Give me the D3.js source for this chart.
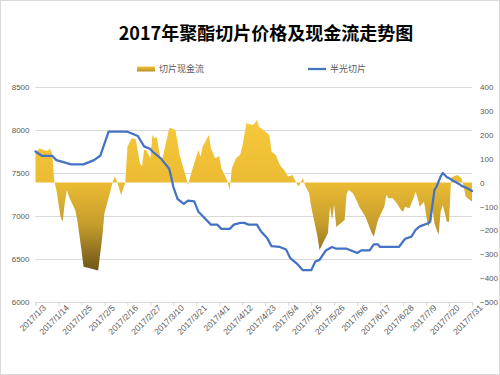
<!DOCTYPE html>
<html>
<head>
<meta charset="utf-8">
<script src="https://cdn.jsdelivr.net/npm/d3@7"></script>
<style>
  body { margin: 0; background: #fff; }
  svg { display: block; font-family: "Noto Sans CJK SC", "Noto Sans", sans-serif; }
</style>
</head>
<body>
<svg id="chart" width="500" height="375"></svg>
<script>
const title = '2017年聚酯切片价格及现金流走势图';
const areaName = '切片现金流';
const lineName = '半光切片';

// 半光切片 price (left axis)
const priceDates = ['1/3','1/6','1/11','1/13','1/16','1/20','1/26','1/31','2/3','2/7','2/16','2/19','2/21','2/24','2/27','2/28',
  '3/4','3/8','3/9','3/10','3/12','3/15','3/17','3/20','3/22','3/24','3/28','3/31','4/2','4/6','4/8','4/11','4/13','4/15','4/19',
  '4/21','4/24','4/26','4/30','5/3','5/5','5/8','5/11','5/15','5/17','5/19','5/22','5/25','5/27','6/1','6/4','6/6','6/8','6/12',
  '6/14','6/16','6/17','6/26','6/29','7/2','7/4','7/6','7/10','7/11','7/13','7/14','7/16','7/17','7/19','7/20','7/22','7/25',
  '7/26','7/29','7/31'];
const priceValues = [7750,7700,7700,7650,7630,7600,7600,7650,7700,7980,7980,7950,7930,7810,7780,7750,
  7670,7550,7450,7340,7200,7140,7180,7170,7050,7000,6900,6900,6850,6850,6900,6920,6920,6900,6900,
  6820,6740,6650,6640,6610,6510,6450,6370,6370,6470,6490,6600,6640,6620,6620,6590,6570,6600,6600,
  6670,6670,6640,6640,6735,6760,6840,6880,6915,6935,7300,7340,7460,7500,7450,7440,7410,7370,
  7350,7320,7290];

// 切片现金流 (right axis)
const cashDates = ['1/3','1/5','1/7','1/9','1/10','1/11','1/12','1/13','1/15','1/16','1/17','1/18','1/19','1/22','1/23','1/25',
  '1/26','1/29','2/2','2/3','2/4','2/5','2/8','2/9','2/10','2/11','2/12','2/13','2/15','2/16','2/18','2/20','2/22','2/23',
  '2/24','2/25','2/27','2/28','3/1','3/2','3/4','3/5','3/8','3/9','3/11','3/13','3/16','3/17','3/19','3/22','3/23','3/24',
  '3/27','3/28','3/30','4/1','4/2','4/5','4/6','4/7','4/9','4/11','4/12','4/14','4/17','4/18','4/19','4/20','4/22','4/25',
  '4/26','4/28','4/30','5/2','5/4','5/6','5/8','5/9','5/11','5/12','5/14','5/15','5/17','5/18','5/19','5/21','5/23','5/24',
  '5/25','5/26','5/27','5/29','5/31','6/1','6/2','6/4','6/6','6/7','6/10','6/13','6/14','6/16','6/19','6/20','6/21','6/23',
  '6/25','6/27','6/28','6/29','7/1','7/3','7/4','7/5','7/6','7/8','7/10','7/11','7/12','7/13','7/15','7/16','7/17','7/18',
  '7/19','7/20','7/21','7/22','7/24','7/26','7/27','7/28','7/30','7/31'];
const cashValues = [125,144,135,133,143,120,5,-31,-143,-164,-87,-31,-59,-115,-157,-282,
  -352,-359,-368,-296,-226,-129,-31,4,25,5,-24,-52,0,150,185,181,81,67,
  136,136,102,199,185,192,95,108,227,227,220,116,25,-10,53,136,108,150,
  199,145,102,110,60,4,-31,60,102,116,150,248,241,248,262,234,220,199,
  129,116,74,53,25,32,-3,-17,18,-10,-45,-101,-185,-226,-282,-247,-212,-101,
  -157,-94,-185,-171,-157,-45,-31,-45,-80,-101,-143,-212,-226,-157,-101,-52,-66,-66,
  -87,-115,-122,-101,-108,-66,-38,-66,-101,-80,-185,-164,-101,-171,-219,-122,-94,-129,
  -164,-164,20,25,32,18,-17,-59,-73,-80];

const leftTicks = [6000, 6500, 7000, 7500, 8000, 8500];
const rightTicks = [-500, -400, -300, -200, -100, 0, 100, 200, 300, 400];
const xTickDates = ['1/3','1/14','1/25','2/5','2/16','2/27','3/10','3/21','4/1','4/12','4/23','5/4','5/15','5/26',
  '6/6','6/17','6/28','7/9','7/20','7/31'];

const parseDate = d3.timeParse('%Y/%m/%d');
const toDate = s => parseDate('2017/' + s);

const price = priceDates.map((d, i) => ({ date: toDate(d), value: priceValues[i] }));
const cash = cashDates.map((d, i) => ({ date: toDate(d), value: cashValues[i] }));

const svg = d3.select('#chart');
const margin = { top: 87, right: 28, bottom: 73, left: 35.5 };
const width = 500, height = 375;

svg.append('rect')
  .attr('x', 0.5).attr('y', 0.5)
  .attr('width', width - 1).attr('height', height - 1)
  .attr('fill', '#fff').attr('stroke', '#d9d9d9');

const x = d3.scaleTime()
  .domain([toDate('1/3'), toDate('7/31')])
  .range([margin.left, width - margin.right]);
const yL = d3.scaleLinear().domain([6000, 8500]).range([height - margin.bottom, margin.top]);
const yR = d3.scaleLinear().domain([-500, 400]).range([height - margin.bottom, margin.top]);

// gradient for area
const defs = svg.append('defs');
const [cMin, cMax] = d3.extent(cashValues);
const grad = defs.append('linearGradient')
  .attr('id', 'gold')
  .attr('gradientUnits', 'userSpaceOnUse')
  .attr('x1', 0).attr('x2', 0)
  .attr('y1', yR(cMax)).attr('y2', yR(cMin));
grad.append('stop').attr('offset', 0).attr('stop-color', '#f7c83a');
grad.append('stop').attr('offset', 0.42).attr('stop-color', '#ebbb33');
grad.append('stop').attr('offset', 0.7).attr('stop-color', '#c49c2c');
grad.append('stop').attr('offset', 1).attr('stop-color', '#6e5419');

const legGrad = defs.append('linearGradient')
  .attr('id', 'goldLeg')
  .attr('x1', 0).attr('x2', 0).attr('y1', 0).attr('y2', 1);
legGrad.append('stop').attr('offset', 0).attr('stop-color', '#f3c23a');
legGrad.append('stop').attr('offset', 1).attr('stop-color', '#b8922a');

// gridlines
svg.append('g')
  .attr('transform', `translate(${margin.left},0)`)
  .call(d3.axisLeft(yL).tickValues(leftTicks).tickSize(-(width - margin.left - margin.right)).tickFormat(''))
  .call(g => g.select('.domain').remove())
  .call(g => g.selectAll('line').attr('stroke', '#d9d9d9').attr('stroke-width', 1));

// left axis labels
svg.append('g')
  .attr('transform', `translate(${margin.left},0)`)
  .call(d3.axisLeft(yL).tickValues(leftTicks).tickSize(0).tickPadding(6).tickFormat(d3.format('d')))
  .call(g => g.select('.domain').remove())
  .call(g => g.selectAll('text').attr('fill', '#595959').style('font-size', '8px'));

// right axis labels
svg.append('g')
  .attr('transform', `translate(${width - margin.right},0)`)
  .call(d3.axisRight(yR).tickValues(rightTicks).tickSize(0).tickPadding(8))
  .call(g => g.select('.domain').remove())
  .call(g => g.selectAll('text').attr('fill', '#595959').style('font-size', '8px'));

// area
const area = d3.area()
  .x(d => x(d.date))
  .y0(yR(0))
  .y1(d => yR(d.value));

svg.append('path')
  .datum(cash)
  .attr('d', area)
  .attr('fill', 'url(#gold)');

// bottom axis
svg.append('g')
  .attr('transform', `translate(0,${height - margin.bottom})`)
  .call(d3.axisBottom(x).tickValues(xTickDates.map(toDate)).tickSize(4).tickFormat(d3.timeFormat('%Y/%-m/%-d')))
  .call(g => g.select('.domain').attr('stroke', '#d9d9d9'))
  .call(g => g.selectAll('line').attr('stroke', '#d9d9d9'))
  .call(g => g.selectAll('text')
    .attr('fill', '#595959')
    .style('font-size', '8.5px')
    .attr('text-anchor', 'end')
    .attr('dx', '0.35em')
    .attr('dy', '0.6em')
    .attr('transform', 'rotate(-45)'));

// line
const line = d3.line()
  .x(d => x(d.date))
  .y(d => yL(d.value));

svg.append('path')
  .datum(price)
  .attr('d', line)
  .attr('fill', 'none')
  .attr('stroke', '#4472c4')
  .attr('stroke-width', 2.25)
  .attr('stroke-linejoin', 'round')
  .attr('stroke-linecap', 'round');

// title
svg.append('text')
  .attr('x', 266).attr('y', 40)
  .attr('text-anchor', 'middle')
  .attr('font-weight', 'bold')
  .style('font-size', '18px')
  .attr('fill', '#000')
  .text(title);

// legend
const legend = svg.append('g').style('font-size', '9px');
legend.append('rect')
  .attr('x', 137).attr('y', 66.5).attr('width', 18).attr('height', 5)
  .attr('fill', 'url(#goldLeg)');
legend.append('text')
  .attr('x', 159).attr('y', 72)
  .attr('fill', '#595959')
  .text(areaName);
legend.append('line')
  .attr('x1', 308).attr('x2', 326).attr('y1', 69).attr('y2', 69)
  .attr('stroke', '#4472c4').attr('stroke-width', 2.25);
legend.append('text')
  .attr('x', 330).attr('y', 72)
  .attr('fill', '#595959')
  .text(lineName);
</script>
</body>
</html>
